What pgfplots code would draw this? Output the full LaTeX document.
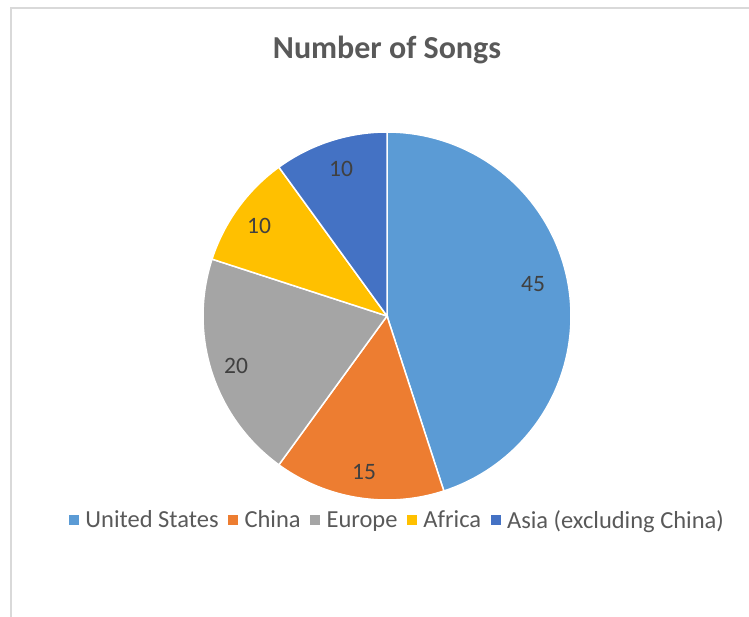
\documentclass[border=0pt]{standalone}
\usepackage{pgfplots}
\pgfplotsset{compat=1.18}
\usepackage{fontspec}
\setmainfont{Carlito}
\definecolor{cUS}{HTML}{5B9BD5}
\definecolor{cCN}{HTML}{ED7D31}
\definecolor{cEU}{HTML}{A5A5A5}
\definecolor{cAF}{HTML}{FFC000}
\definecolor{cAS}{HTML}{4472C4}
\definecolor{ttl}{HTML}{595959}
\definecolor{lbl}{HTML}{404040}
\definecolor{frm}{HTML}{D9D9D9}
% data (number of songs)
\def\vUS{45}\def\vCN{15}\def\vEU{20}\def\vAF{10}\def\vAS{10}
\pgfmathsetmacro\aZ{90}
\pgfmathsetmacro\aA{\aZ-\vUS*3.6}
\pgfmathsetmacro\aB{\aA-\vCN*3.6}
\pgfmathsetmacro\aC{\aB-\vEU*3.6}
\pgfmathsetmacro\aD{\aC-\vAF*3.6}
\pgfmathsetmacro\aE{\aD-\vAS*3.6}
\def\cx{387}\def\cy{300}\def\R{184}
\begin{document}
\begin{tikzpicture}
\begin{axis}[width=749pt,height=616pt,scale only axis,
  xmin=0,xmax=749,ymin=0,ymax=616,hide axis,clip=false,
  legend style={at={(axis cs:397.5,96)},anchor=center,draw=none,fill=none,
    font=\fontsize{24.5}{28}\selectfont,text=ttl,legend columns=5,
    /tikz/every odd column/.append style={column sep=5pt},
    /tikz/every even column/.append style={column sep=7.5pt},
    inner xsep=0pt},
  legend cell align=left]
\draw[frm,line width=2pt] (axis cs:11,-20) -- (axis cs:11,608) -- (axis cs:800,608);
\addplot[forget plot,fill=cUS,draw=white,line width=1.5pt,domain=\aA:\aZ,samples=90,variable=\t]
  ({\cx+\R*cos(t)},{\cy+\R*sin(t)}) -- (axis cs:\cx,\cy) -- cycle;
\addplot[forget plot,fill=cCN,draw=white,line width=1.5pt,domain=\aB:\aA,samples=40,variable=\t]
  ({\cx+\R*cos(t)},{\cy+\R*sin(t)}) -- (axis cs:\cx,\cy) -- cycle;
\addplot[forget plot,fill=cEU,draw=white,line width=1.5pt,domain=\aC:\aB,samples=40,variable=\t]
  ({\cx+\R*cos(t)},{\cy+\R*sin(t)}) -- (axis cs:\cx,\cy) -- cycle;
\addplot[forget plot,fill=cAF,draw=white,line width=1.5pt,domain=\aD:\aC,samples=30,variable=\t]
  ({\cx+\R*cos(t)},{\cy+\R*sin(t)}) -- (axis cs:\cx,\cy) -- cycle;
\addplot[forget plot,fill=cAS,draw=white,line width=1.5pt,domain=\aE:\aD,samples=30,variable=\t]
  ({\cx+\R*cos(t)},{\cy+\R*sin(t)}) -- (axis cs:\cx,\cy) -- cycle;
\addlegendimage{legend image code/.code={\fill[cUS] (0pt,-4.5pt) rectangle (9pt,4.5pt);}}
\addlegendentry{United States}
\addlegendimage{legend image code/.code={\fill[cCN] (0pt,-4.5pt) rectangle (9pt,4.5pt);}}
\addlegendentry{China}
\addlegendimage{legend image code/.code={\fill[cEU] (0pt,-4.5pt) rectangle (9pt,4.5pt);}}
\addlegendentry{Europe}
\addlegendimage{legend image code/.code={\fill[cAF] (0pt,-4.5pt) rectangle (9pt,4.5pt);}}
\addlegendentry{Africa}
\addlegendimage{legend image code/.code={\fill[cAS] (0pt,-4.5pt) rectangle (9pt,4.5pt);}}
\addlegendentry{Asia (excluding China)}
\node[text=lbl,font=\fontsize{23.5}{27}\selectfont] at (axis cs:533,332) {45};
\node[text=lbl,font=\fontsize{23.5}{27}\selectfont] at (axis cs:364,144) {15};
\node[text=lbl,font=\fontsize{23.5}{27}\selectfont] at (axis cs:236,250) {20};
\node[text=lbl,font=\fontsize{23.5}{27}\selectfont] at (axis cs:259,390) {10};
\node[text=lbl,font=\fontsize{23.5}{27}\selectfont] at (axis cs:341,447) {10};
\node[text=ttl,font=\bfseries\fontsize{32}{38}\selectfont] at (axis cs:387,566) {Number of Songs};
\end{axis}
\pgfresetboundingbox
\path (current axis.south west) rectangle (current axis.north east);
\end{tikzpicture}
\end{document}
